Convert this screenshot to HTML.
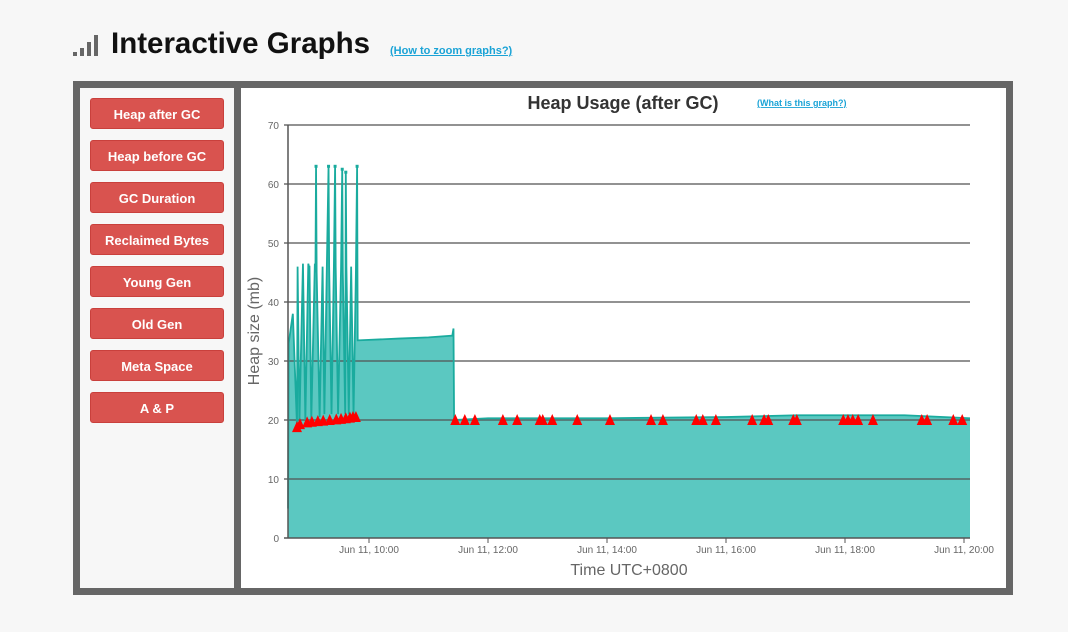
<!DOCTYPE html>
<html><head><meta charset="utf-8"><style>
body{margin:0;width:1068px;height:632px;background:#f7f7f7;font-family:"Liberation Sans",sans-serif;position:relative;overflow:hidden}
.btn{position:absolute;left:90px;width:134px;height:31px;background:#d9534f;border:1px solid #c9403c;border-radius:3px;color:#fff;font-weight:bold;font-size:13px;line-height:31px;text-align:center;box-sizing:border-box}
</style></head><body>
<div style="position:absolute;left:73px;top:28px;height:36px;">
<svg width="32" height="30" style="position:absolute;left:0;top:0"><rect x="0" y="24" width="4" height="4" fill="#666"/><rect x="7" y="20" width="4" height="8" fill="#666"/><rect x="14" y="14" width="4" height="14" fill="#666"/><rect x="21" y="7" width="4" height="21" fill="#666"/></svg>
<div style="position:absolute;left:38px;top:-1px;font-size:29.5px;font-weight:bold;color:#111;white-space:nowrap">Interactive Graphs</div>
<a style="position:absolute;left:317px;top:17px;font-size:11px;font-weight:bold;color:#1aa3d6;text-decoration:underline;white-space:nowrap">(How to zoom graphs?)</a>
</div>
<div style="position:absolute;left:73px;top:81px;width:940px;height:514px;background:#666"></div>
<div style="position:absolute;left:80px;top:88px;width:154px;height:500px;background:#f7f7f7"></div>
<div style="position:absolute;left:241px;top:88px;width:765px;height:500px;background:#fff"></div>
<div class="btn" style="top:98px">Heap after GC</div>
<div class="btn" style="top:140px">Heap before GC</div>
<div class="btn" style="top:182px">GC Duration</div>
<div class="btn" style="top:224px">Reclaimed Bytes</div>
<div class="btn" style="top:266px">Young Gen</div>
<div class="btn" style="top:308px">Old Gen</div>
<div class="btn" style="top:350px">Meta Space</div>
<div class="btn" style="top:392px">A &amp; P</div>
<svg id="chart" width="1068" height="632" style="position:absolute;left:0;top:0"></svg>
<script>
const yTicks=[0,10,20,30,40,50,60,70];
const xTickHours=[10,12,14,16,18,20];
const xTickLabels=["Jun 11, 10:00","Jun 11, 12:00","Jun 11, 14:00","Jun 11, 16:00","Jun 11, 18:00","Jun 11, 20:00"];
const lineTimes=[8.64,8.65,8.72,8.79,8.80,8.83,8.89,8.93,8.98,8.99,9.00,9.03,9.09,9.10,9.11,9.12,9.17,9.22,9.25,9.29,9.32,9.33,9.37,9.41,9.43,9.44,9.48,9.53,9.55,9.56,9.60,9.61,9.62,9.66,9.70,9.74,9.78,9.80,9.81,10.5,11.0,11.40,11.42,11.43,12.0,14.0,16.0,17.2,19.0,20.1];
const lineValues=[5,33,38,19,46,19.5,46.5,20,46.5,46,46,20,46.5,45,63,45,20.5,46,21,45,63,46,21,46,63,46,21,45.5,62.5,45,21,62,46,21,46,21,45,63,33.5,33.8,34,34.3,35.5,20,20.3,20.3,20.5,20.8,20.8,20.3];
const gcTimes=[8.79,8.84,8.96,9.04,9.14,9.23,9.34,9.45,9.53,9.61,9.68,9.73,9.78,11.45,11.61,11.78,12.25,12.49,12.87,12.92,13.08,13.50,14.05,14.74,14.94,15.50,15.61,15.83,16.44,16.64,16.71,17.13,17.19,17.97,18.05,18.13,18.22,18.47,19.29,19.38,19.82,19.97];
const gcValues=[18.8,19.3,19.6,19.7,19.8,19.9,20.0,20.1,20.2,20.3,20.4,20.5,20.5,20,20,20,20,20,20,20,20,20,20,20,20,20,20,20,20,20,20,20,20,20,20,20,20,20,20,20,20,20];
const NS="http://www.w3.org/2000/svg",svg=document.getElementById('chart');
const X0=288,X1=970,Y0=538,Y1=125;
const xs=h=>369+(h-10)*59.5;
const ys=v=>Y0-(v/70)*(Y0-Y1);
function mk(t,a){const e=document.createElementNS(NS,t);for(const k in a)e.setAttribute(k,a[k]);svg.appendChild(e);return e;}
let t=mk('text',{x:623,y:109,'text-anchor':'middle','font-size':18,'font-weight':'bold',fill:'#333','font-family':'Liberation Sans, sans-serif'});t.textContent='Heap Usage (after GC)';

t=mk('text',{x:757,y:106,'font-size':9,fill:'#1aa3d6','text-decoration':'underline','font-weight':'bold'});t.textContent='(What is this graph?)';

let d='M'+xs(lineTimes[0])+','+ys(0);
lineTimes.forEach((h,i)=>d+=' L'+xs(h)+','+ys(lineValues[i]));
d+=' L'+X1+','+ys(lineValues[lineValues.length-1])+' L'+X1+','+ys(0)+'Z';
let a=mk('path',{d:d,fill:'#5bc8c1'});

yTicks.forEach(v=>{const g=mk('line',{x1:X0-4,x2:X1,y1:ys(v),y2:ys(v),stroke:'#555','stroke-width':1.5,'stroke-opacity':v==0?1:0.85});

const l=mk('text',{x:X0-9,y:ys(v)+4,'text-anchor':'end','font-size':10,fill:'#666'});l.textContent=v;
});
let ln='';lineTimes.forEach((h,i)=>ln+=(i?' L':'M')+xs(h)+','+ys(lineValues[i]));
ln+=' L'+X1+','+ys(lineValues[lineValues.length-1]);
let p=mk('path',{d:ln,fill:'none',stroke:'#1aab9e','stroke-width':1.8});

lineTimes.forEach((h,i)=>{if(lineValues[i]>55){const c=mk('rect',{x:xs(h)-1.5,y:ys(lineValues[i])-1.5,width:3,height:3,fill:'#1aab9e'});}});
gcTimes.forEach((h,i)=>{const x=xs(h),y=ys(gcValues[i]);
const tr=mk('polygon',{points:(x-5)+','+(y+5)+' '+(x+5)+','+(y+5)+' '+x+','+(y-6),fill:'#f00'});
});
let ax=mk('line',{x1:X0,x2:X0,y1:Y1,y2:Y0,stroke:'#555','stroke-width':1.5});

xTickHours.forEach((h,i)=>{const x=xs(h);const tk=mk('line',{x1:x,x2:x,y1:Y0,y2:Y0+5,stroke:'#555'});

const l=mk('text',{x:x,y:Y0+15,'text-anchor':'middle','font-size':10,fill:'#666'});l.textContent=xTickLabels[i];
});
t=mk('text',{x:629,y:575,'text-anchor':'middle','font-size':16,fill:'#666'});t.textContent='Time UTC+0800';

t=mk('text',{x:0,y:0,'text-anchor':'middle','font-size':16,fill:'#666',transform:'translate(259,331) rotate(-90)'});t.textContent='Heap size (mb)';

</script>
</body></html>
